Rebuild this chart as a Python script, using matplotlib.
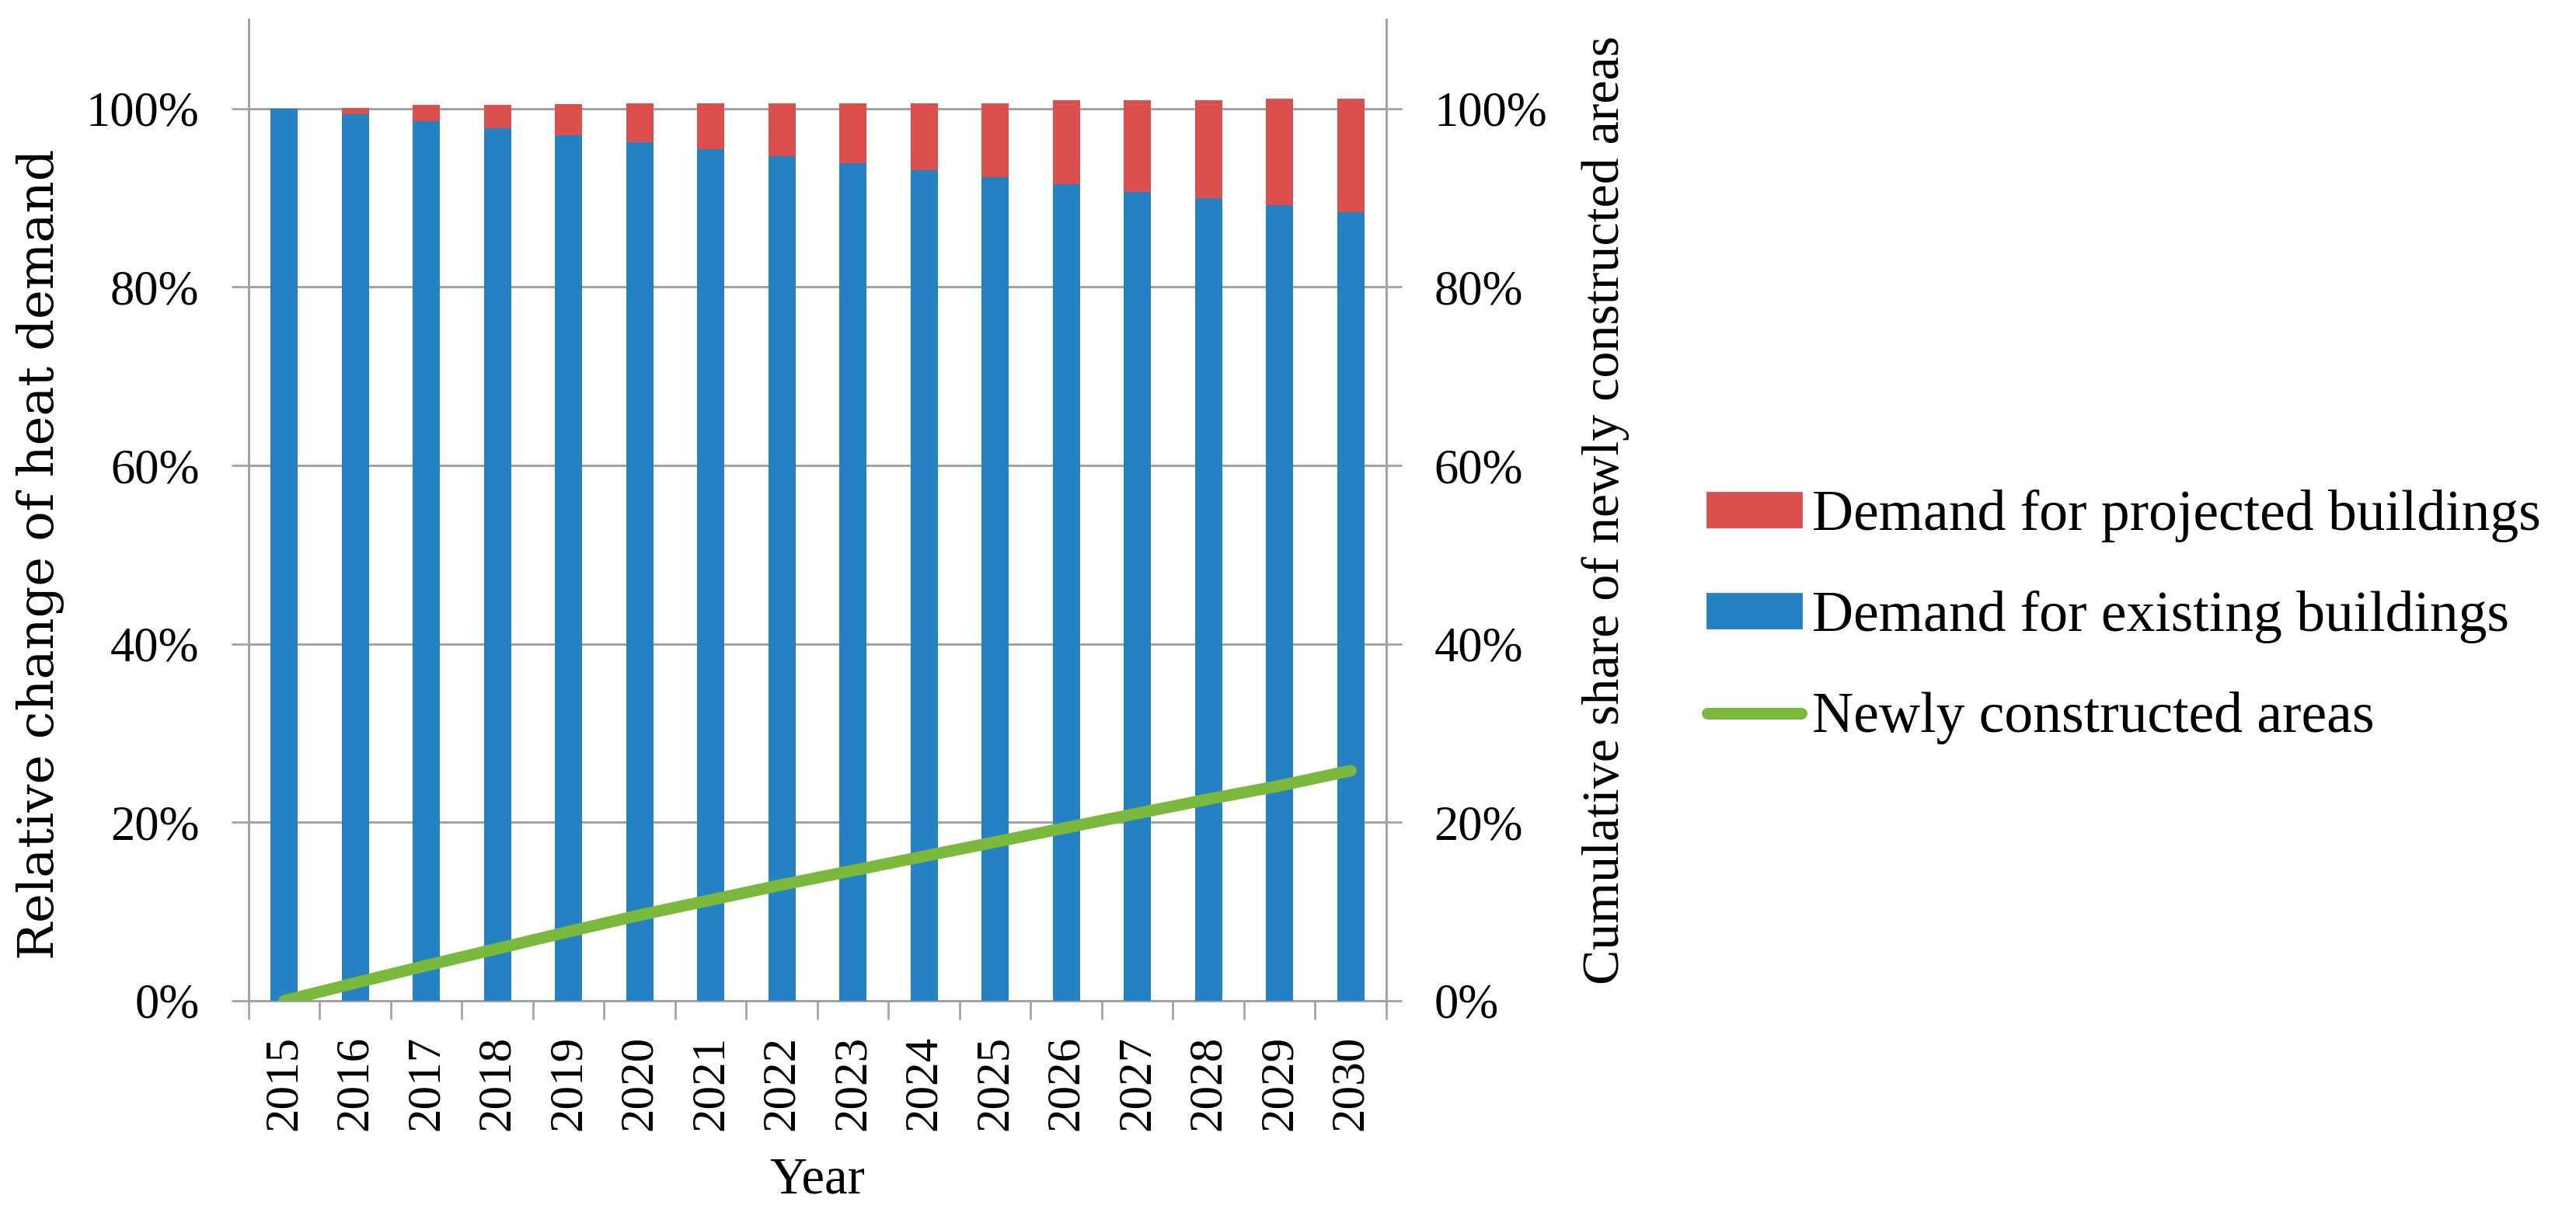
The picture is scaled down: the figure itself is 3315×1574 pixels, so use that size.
import matplotlib
matplotlib.use("Agg")
import matplotlib.pyplot as plt
from matplotlib.ticker import PercentFormatter, FixedLocator
from matplotlib.patches import Patch
from matplotlib.lines import Line2D
import numpy as np

# -------------------------------------------------------------------------------------------------
# Data
# -------------------------------------------------------------------------------------------------

years = ["2015", "2016", "2017", "2018", "2019", "2020", "2021", "2022",
         "2023", "2024", "2025", "2026", "2027", "2028", "2029", "2030"]

# share of the 2015 heat demand, existing building stock
existing = [1.000, 0.9935, 0.9855, 0.978, 0.970, 0.962, 0.9545, 0.947,
            0.939, 0.931, 0.923, 0.915, 0.907, 0.900, 0.892, 0.884]

# additional demand from projected buildings (stacked on top)
projected = [0.000, 0.007, 0.0185, 0.026, 0.0355, 0.044, 0.0515, 0.059,
             0.067, 0.075, 0.083, 0.094, 0.102, 0.109, 0.119, 0.127]

# cumulative share of newly constructed areas (secondary axis)
new_areas = [0.000, 0.020, 0.0395, 0.0585, 0.0775, 0.096, 0.113, 0.130,
             0.146, 0.162, 0.178, 0.194, 0.210, 0.226, 0.241, 0.258]

labels = ["Demand for projected buildings", "Demand for existing buildings",
          "Newly constructed areas"]

# -------------------------------------------------------------------------------------------------
# Styling
# -------------------------------------------------------------------------------------------------

W, H = 3316, 1574
DPI = 200
blue = "#2381c4"
red = "#db4f4c"
green = "#7ab93c"
grey = "#a3a3a3"
serif = ["Liberation Serif", "DejaVu Serif"]

plt.rcParams["font.family"] = serif

fig = plt.figure(figsize=(W / DPI, H / DPI), dpi=DPI)

# plot area in pixels: left 320, right 1784, bottom 1288, top 25
x0, x1, y0, y1 = 320, 1784, 1288, 25
ax = fig.add_axes([x0 / W, 1 - y0 / H, (x1 - x0) / W, (y0 - y1) / H])

x = np.arange(len(years))
bar_w = 0.38

ax.bar(x, existing, width=bar_w, color=blue, zorder=3)
ax.bar(x, projected, width=bar_w, bottom=existing, color=red, zorder=3)

ax.set_xlim(-0.5, len(years) - 0.5)
ax.set_ylim(0, 1.1)

yt = [0, 0.2, 0.4, 0.6, 0.8, 1.0]
ax.yaxis.set_major_locator(FixedLocator(yt))
ax.yaxis.set_major_formatter(PercentFormatter(1.0, decimals=0))
ax.grid(axis="y", color=grey, linewidth=1.1, zorder=0)

ax.set_xticks(x)
ax.set_xticklabels(years, rotation=90)
ax.set_xticks(np.arange(-0.5, len(years)), minor=True)
ax.tick_params(axis="x", which="major", length=0, pad=16, labelsize=22)
ax.tick_params(axis="x", which="minor", length=8.6, width=1.0, color=grey, direction="out")
ax.tick_params(axis="y", length=7.9, width=1.0, color=grey, labelsize=22.5, pad=15)

for side in ["top"]:
    ax.spines[side].set_visible(False)
for side in ["left", "right", "bottom"]:
    ax.spines[side].set_color(grey)
    ax.spines[side].set_linewidth(1.1)

ax.set_xlabel("Year", fontsize=24, labelpad=12)
ax.set_ylabel("Relative change of heat demand", fontsize=23,
              family=["DejaVu Serif"])
ax.yaxis.set_label_coords(-0.162, 0.455)

# -------------------------------------------------------------------------------------------------
# Secondary axis with the newly constructed areas
# -------------------------------------------------------------------------------------------------

ax2 = ax.twinx()
ax2.plot(x, new_areas, color=green, linewidth=5.4, solid_capstyle="round", zorder=4)
ax2.set_ylim(0, 1.1)
ax2.yaxis.set_major_locator(FixedLocator(yt))
ax2.yaxis.set_major_formatter(PercentFormatter(1.0, decimals=0))
ax2.tick_params(axis="y", length=7.2, width=1.0, color=grey, labelsize=22.5, pad=15)
for side in ["top", "left", "bottom"]:
    ax2.spines[side].set_visible(False)
ax2.spines["right"].set_color(grey)
ax2.spines["right"].set_linewidth(1.1)
ax2.set_ylabel("Cumulative share of newly constructed areas", fontsize=24.5, labelpad=16)

# -------------------------------------------------------------------------------------------------
# Legend
# -------------------------------------------------------------------------------------------------

handles = [Patch(color=red), Patch(color=blue),
           Line2D([0], [0], color=green, linewidth=5.4, solid_capstyle="round")]
fig.legend(handles, labels, loc="center left", bbox_to_anchor=(2197 / W, 1 - 794 / H),
           frameon=False, fontsize=26.5, handlelength=1.64, handleheight=0.55,
           handletextpad=0.2, labelspacing=0.84, borderpad=0, borderaxespad=0)

fig.savefig("out.png", dpi=DPI)
